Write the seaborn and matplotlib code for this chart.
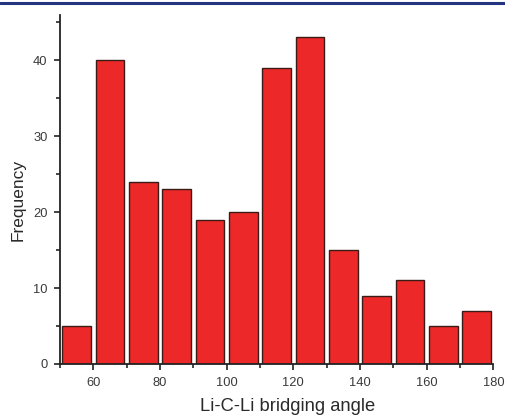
import numpy as np
import matplotlib
matplotlib.use("Agg")
import matplotlib.pyplot as plt
from matplotlib.lines import Line2D
from matplotlib.ticker import MultipleLocator
import seaborn as sns

# data
bin_edges = [50, 60, 70, 80, 90, 100, 110, 120, 130, 140, 150, 160, 170, 180]
bin_centers = [55, 65, 75, 85, 95, 105, 115, 125, 135, 145, 155, 165, 175]
counts = [5, 40, 24, 23, 19, 20, 39, 43, 15, 9, 11, 5, 7]

sns.set_style("ticks")
plt.rcParams['font.family'] = ['Liberation Sans', 'DejaVu Sans']

fig = plt.figure(figsize=(5.06, 4.16), dpi=100)
ax = fig.add_axes([0.1186, 0.125, 0.8565, 0.840])

sns.histplot(x=bin_centers, weights=counts, bins=bin_edges, shrink=0.86,
             color="#ec2828", alpha=1, edgecolor="#3b1b18", linewidth=1.0, ax=ax)

ax.set_xlim(50, 180)
ax.set_ylim(0, 46)
ax.xaxis.set_major_locator(MultipleLocator(20))
ax.xaxis.set_minor_locator(MultipleLocator(10))
ax.yaxis.set_major_locator(MultipleLocator(10))
ax.yaxis.set_minor_locator(MultipleLocator(5))
ax.tick_params(which="major", direction="out", length=4.5, width=1.2, labelsize=9.3,
               colors="#222222", pad=4.5)
ax.tick_params(which="minor", direction="out", length=3, width=1.2)
for lab in ax.get_xticklabels() + ax.get_yticklabels():
    lab.set_color("#3a3a3a")

sns.despine(ax=ax)
for s in ["left", "bottom"]:
    ax.spines[s].set_linewidth(1.3)
    ax.spines[s].set_color("#222222")

ax.set_xlabel("Li-C-Li bridging angle", fontsize=13.2, color="#2a2a2a")
ax.set_ylabel("Frequency", fontsize=12.5, color="#2a2a2a")
ax.xaxis.set_label_coords(0.525, -0.097)
ax.yaxis.set_label_coords(-0.08, 0.47)

# journal header rule across the top
fig.add_artist(Line2D([0, 1], [0.992, 0.992], transform=fig.transFigure,
                      color="#233580", linewidth=2.2))

fig.savefig("out.png", dpi=100)
